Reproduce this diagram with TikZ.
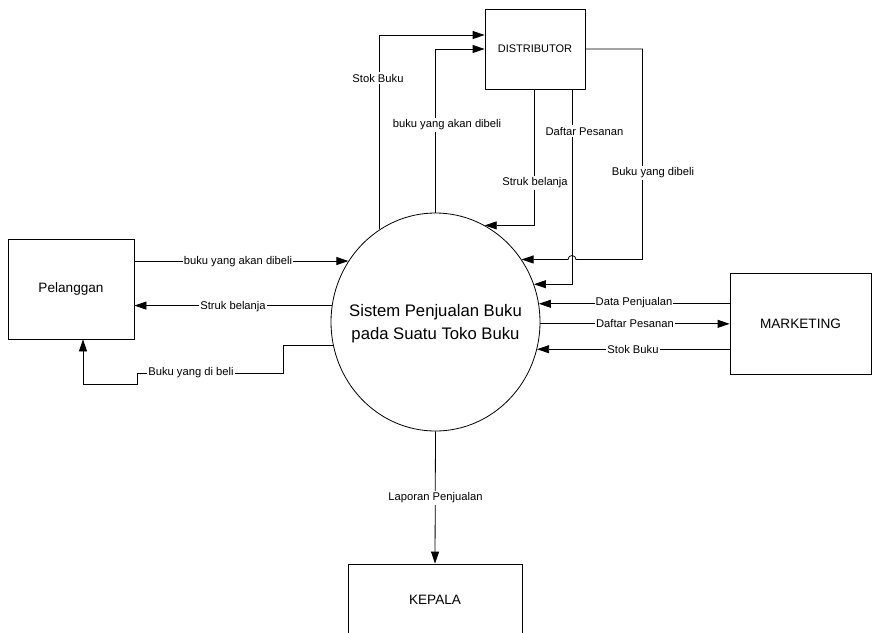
\documentclass[tikz,border=0pt]{standalone}
\usepackage{fontspec}
\setmainfont{Liberation Sans}
\usetikzlibrary{shapes.geometric,arrows.meta}

\begin{document}
\begin{tikzpicture}[x=1pt,y=-1pt,
  line width=0.8pt,
  entity/.style={draw,rectangle,inner sep=0pt,font=\fontsize{13.6}{16}\selectfont},
  flow/.style={draw,-{Triangle[length=12pt,width=8pt]}},
  lbl/.style={fill=white,inner xsep=1pt,inner ysep=2pt,font=\fontsize{11.2}{13}\selectfont},
  ]
\clip (0,0) rectangle (873,632);

% process and external entities
\node[draw,ellipse,minimum width=209pt,minimum height=218pt,inner sep=0pt] (sys) at (435.5,322) {};
\node[align=center,font=\fontsize{16.7}{23}\selectfont] (systext) at (435.5,323.5)
  {Sistem Penjualan Buku\\pada Suatu Toko Buku};
\node[entity,minimum width=100pt,minimum height=80pt,font=\fontsize{11}{13}\selectfont] (dist) at (535,49) {DISTRIBUTOR};
\node[entity,minimum width=126pt,minimum height=100pt] (pel) at (71,289) {Pelanggan};
\node[entity,minimum width=141pt,minimum height=101pt] (mkt) at (800.5,323.5) {MARKETING};
\node[entity,minimum width=174pt,minimum height=72pt] (kep) at (435,600) {KEPALA};

% helper points for the distributor flows
\path ([xshift=37pt]dist.south) coordinate (dpx);
\coordinate (hopC) at (dpx |- sys.36.4);

% flows between the process and the distributor
\draw[flow] (sys.121.6) |- ([yshift=14pt]dist.west);
\draw[flow] (sys.north) |- (dist.west);
\draw[flow] ([xshift=-1pt]dist.south) |- (sys.63.8);
\draw[flow] (dpx) |- (sys.21.8);
\draw[flow] (dist.east) -- ++(57,0) |- ([xshift=4pt]hopC)
  arc[start angle=0,end angle=180,radius=4pt] -- (sys.36.4);

% flows between the process and the customer
\draw[flow] (sys.145.5 -| pel.east) -- (sys.145.5);
\draw[flow] (sys.171.75) -- (sys.171.75 -| pel.east);
\draw[flow] (sys.193.8) -| (283,373) -| (137,384) -| ([xshift=12pt]pel.south);

% flows between the process and marketing
\draw[flow] (sys.10.46 -| mkt.west) -- (sys.10.46);
\draw[flow] (sys.359.5) -- (sys.359.5 -| mkt.west);
\draw[flow] (sys.345.1 -| mkt.west) -- (sys.345.1);

% report to the head
\draw[flow] (sys.south) -- (kep.north);

% flow labels
\node[lbl] (l1) at (378,78) {Stok Buku};
\node[lbl] (l2) at (447,125) {buku yang akan dibeli};
\node[lbl] (l3) at (535,183) {Struk belanja};
\node[lbl] (l4) at (584.5,131) {Daftar Pesanan};
\node[lbl] (l5) at (653,173) {Buku yang dibeli};
\node[lbl] (l6) at (238,262) {buku yang akan dibeli};
\node[lbl] (l7) at (233,307) {Struk belanja};
\node[lbl] (l8) at (191,373) {Buku yang di beli};
\node[lbl] (l9) at (634,303) {Data Penjualan};
\node[lbl] (l10) at (635,323) {Daftar Pesanan};
\node[lbl] (l11) at (633,349) {Stok Buku};
\node[lbl] (l12) at (435.5,498) {Laporan Penjualan};
\end{tikzpicture}
\end{document}
